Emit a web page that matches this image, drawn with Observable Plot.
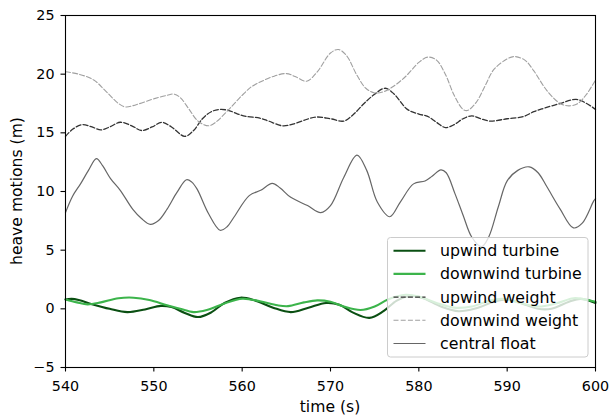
<!DOCTYPE html>
<html><head><meta charset="utf-8">
<script src="https://cdn.jsdelivr.net/npm/d3@7"></script>
<script src="https://cdn.jsdelivr.net/npm/@observablehq/plot@0.6"></script>
<style>body{margin:0;background:#fff;} svg{display:block}</style>
</head><body><div id="chart"></div>
<script>
const xTicks = [540, 550, 560, 570, 580, 590, 600];
const yTicks = [-5, 0, 5, 10, 15, 20, 25];
const xLabel = "time (s)";
const yLabel = "heave motions (m)";

// [time (s), heave (m)]
const upwindTurbine = [
  [540,0.8],[540.7,0.85],[541.5,0.75],[543,0.4],[545,0.0],[547,-0.28],[549,-0.05],[550.8,0.25],
  [552,0.15],[553.5,-0.35],[555,-0.7],[556.5,-0.3],[558,0.5],[559.8,0.95],[561.5,0.7],[563.5,0.1],
  [565.5,-0.28],[567.5,0.1],[569.5,0.5],[571,0.35],[572.5,-0.3],[574.4,-0.77],[576,-0.2],[577.5,0.7],
  [579,1.1],[580.5,0.9],[582.5,0.2],[584.5,-0.2],[586.5,0.05],[588.5,0.6],[590,0.8],[591.5,0.5],
  [593.5,0.0],[595,0.0],[597,0.6],[598.3,0.85],[600,0.5]
];
const downwindTurbine = [
  [540,0.8],[541.3,0.55],[542.5,0.38],[544,0.55],[546,0.9],[547.7,0.95],[549.5,0.75],[551.5,0.3],
  [553,0.0],[554.5,-0.28],[556,-0.1],[558,0.45],[560,0.86],[562,0.65],[564,0.3],[565.2,0.23],
  [567,0.55],[568.5,0.72],[570,0.6],[571.5,0.2],[573.4,-0.1],[575,0.2],[576.5,0.8],[578.5,1.2],
  [580,1.05],[582,0.5],[584,0.1],[586,0.2],[588,0.7],[589.5,0.85],[591.5,0.5],[593.5,0.2],
  [595.5,0.45],[597.5,0.9],[598.5,0.85],[600,0.6]
];
const upwindWeight = [
  [540,14.7],[540.8,15.3],[541.9,15.7],[543,15.5],[544,15.25],[545,15.5],[546.2,15.9],[547.5,15.6],
  [548.6,15.2],[549.8,15.5],[550.9,15.9],[552,15.5],[553.5,14.7],[554.5,15.2],[555.5,16.2],[556.5,16.8],
  [557.5,17.0],[558.5,16.9],[559.5,16.6],[560.5,16.4],[562,16.25],[563,16.0],[564.6,15.6],[566,15.8],
  [567.5,16.2],[568.5,16.35],[570,16.2],[571.5,16.0],[572.5,16.5],[573.8,17.5],[575,18.3],[576.2,18.8],
  [577.2,18.3],[578.7,17.0],[580,16.6],[581,16.4],[582,15.9],[583,15.45],[584,15.7],[585,16.2],
  [586,16.45],[587,16.2],[588.1,16.0],[590,16.2],[591.9,16.4],[593,16.8],[594.2,17.1],[596,17.5],
  [597.8,17.85],[599,17.5],[600,17.0]
];
const downwindWeight = [
  [540,20.2],[541.5,20.0],[543.2,19.5],[544.5,18.6],[546,17.5],[546.8,17.2],[548,17.4],[550,17.9],
  [551.5,18.2],[552.3,18.3],[553,18.0],[554,17.0],[555,16.0],[556.2,15.6],[557,15.9],[558.5,17.0],
  [560,18.2],[561,18.9],[562.1,19.35],[563.5,19.8],[565,20.05],[566,19.8],[567.3,19.4],[568.5,20.2],
  [570,21.8],[570.9,22.1],[571.8,21.6],[573,19.9],[574,18.8],[575,18.4],[576,18.5],[577,18.9],
  [578.5,19.8],[580,21.0],[581,21.45],[582,21.2],[583,20.0],[584,18.2],[585,17.0],[585.5,16.9],
  [586.5,17.6],[587.5,19.0],[588.5,20.4],[590,21.3],[590.8,21.5],[592,21.2],[593,20.3],[594.5,18.6],
  [596,17.5],[597,17.3],[598,17.5],[599,18.3],[600,19.5]
];
const centralFloat = [
  [540,8.2],[540.8,9.6],[541.7,10.65],[542.6,11.8],[543.5,12.8],[544.2,12.2],[545.1,11.1],[546.2,10.1],
  [547.6,8.5],[548.6,7.7],[549.6,7.2],[550.5,7.5],[551.5,8.5],[552.6,9.9],[553.7,11.0],[554.3,10.8],
  [554.9,10.2],[556.2,8.1],[557.5,6.7],[558.3,7.0],[559.1,7.85],[560.8,9.65],[562.1,10.1],[563.4,10.7],
  [564.3,10.3],[565.5,9.5],[567.4,8.8],[568.9,8.2],[570,8.8],[571.5,11.2],[573,13.1],[574.1,11.8],
  [575.3,9.1],[576.7,7.85],[577.9,9.1],[579.4,10.65],[580.7,10.9],[581.5,11.3],[582.5,11.85],[583.1,11.6],
  [584.1,9.8],[585,8.0],[586,6.1],[587.1,5.3],[587.9,6.1],[589,8.7],[590,10.9],[591.2,11.8],
  [592.5,12.1],[593.5,11.6],[594.5,10.4],[596,8.5],[597.5,6.9],[598.5,7.3],[599.8,9.2],[600,9.4]
];

const seriesNames = ["upwind turbine", "downwind turbine", "upwind weight", "downwind weight", "central float"];
const seriesData = [upwindTurbine, downwindTurbine, upwindWeight, downwindWeight, centralFloat];
const seriesColors = ["#0a4f12", "#3cb44b", "#333333", "#a0a0a0", "#666666"];
const seriesWidths = [2.1, 2.1, 1.3, 1.1, 1.2];
const seriesDash = [null, null, "5,2.2", "5,2.2", null];

const lineMarks = seriesData.map((data, i) => Plot.line(data, {
  x: d => d[0], y: d => d[1], curve: "catmull-rom",
  stroke: seriesColors[i], strokeWidth: seriesWidths[i],
  strokeDasharray: seriesDash[i] || undefined
}));

const svg = Plot.plot({
  width: 610, height: 418,
  marginLeft: 65, marginRight: 15, marginTop: 15, marginBottom: 51,
  style: {fontFamily: "DejaVu Sans", fontSize: "14.3px", background: "white", color: "black"},
  x: {domain: [540, 600], label: null},
  y: {domain: [-5, 25], label: null},
  marks: [
    ...lineMarks,
    Plot.frame({stroke: "black", strokeWidth: 1.1}),
    Plot.axisX({ticks: xTicks, tickSize: 4.5, tickPadding: 8.5, label: null, strokeWidth: 1.1}),
    Plot.axisY({ticks: yTicks, tickSize: 4.5, tickPadding: 6.5, label: null, strokeWidth: 1.1})
  ]
});

const s = d3.select(svg);
s.append("text").attr("x", 330).attr("y", 411.5).attr("text-anchor", "middle")
  .style("font-size", "15.6px").attr("fill", "black").text(xLabel);
s.append("text").attr("transform", "translate(17,191) rotate(-90)").attr("text-anchor", "middle")
  .attr("dominant-baseline", "central").style("font-size", "15.6px").attr("fill", "black").text(yLabel);

const lg = s.append("g");
lg.append("rect").attr("x", 387.5).attr("y", 237.5).attr("width", 200.5).attr("height", 119.5)
  .attr("rx", 3).attr("fill", "white").attr("fill-opacity", 0.8).attr("stroke", "#cccccc").attr("stroke-width", 1);
seriesNames.forEach((name, i) => {
  const y = 250.7 + i * 23.2;
  const ln = lg.append("line").attr("x1", 393.5).attr("x2", 425.5).attr("y1", y).attr("y2", y)
    .attr("stroke", seriesColors[i]).attr("stroke-width", seriesWidths[i]);
  if (seriesDash[i]) ln.attr("stroke-dasharray", seriesDash[i]);
  lg.append("text").attr("x", 440).attr("y", y).attr("text-anchor", "start").attr("dominant-baseline", "central")
    .style("font-size", "15.8px").attr("fill", "black").text(name);
});

document.getElementById("chart").appendChild(svg);
</script>
</body></html>
